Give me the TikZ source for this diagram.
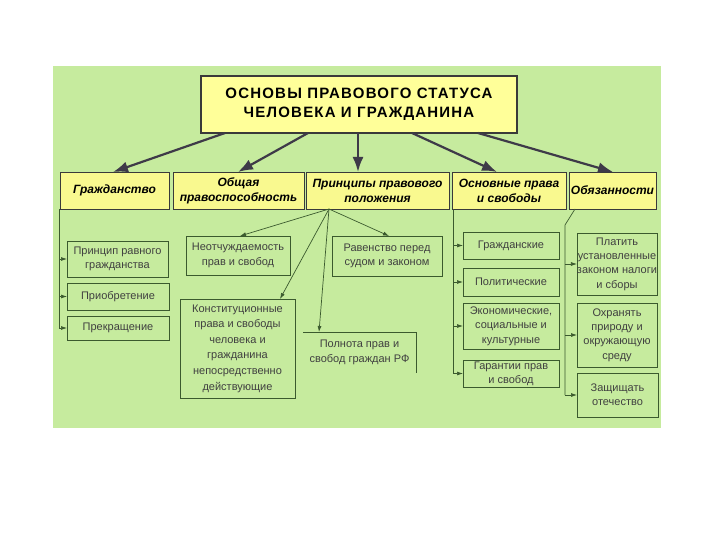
\documentclass[tikz,border=0pt]{standalone}
\usepackage{fontspec}
\setmainfont{Liberation Sans}
\usetikzlibrary{arrows.meta}
\definecolor{bggreen}{HTML}{C6EB9E}
\definecolor{boxyellow}{HTML}{FFFF99}
\definecolor{rowyellow}{HTML}{F9F98F}
\definecolor{darkline}{HTML}{3A3A3A}
\definecolor{arrowdark}{HTML}{3E3A48}
\definecolor{greenline}{HTML}{3B5A2E}
\definecolor{txtgray}{HTML}{404040}
\tikzset{
  titlebox/.style={draw=darkline, line width=2pt, fill=boxyellow, inner sep=0pt, outer sep=0pt, align=center,
    font=\fontsize{15}{19}\selectfont\bfseries\addfontfeature{LetterSpace=8}},
  rowbox/.style={draw=darkline, line width=0.8pt, fill=rowyellow, inner sep=0pt, outer sep=0pt, align=center,
    minimum height=37pt, font=\fontsize{12}{15}\selectfont\bfseries\itshape},
  lowbox/.style={draw=greenline, line width=0.8pt, inner sep=0pt, outer sep=0pt, align=center,
    text=txtgray, font=\fontsize{11}{14.3}\selectfont},
  tallbox/.style={lowbox, font=\fontsize{11}{15.6}\selectfont},
  bigarrow/.style={draw=arrowdark, line width=2.2pt, -{Latex[length=15pt,width=11pt]}},
  thinline/.style={draw=greenline, line width=0.7pt},
  smallarrow/.style={draw=greenline, line width=0.7pt, -{Latex[length=6pt,width=4pt]}}
}
\begin{document}
\begin{tikzpicture}[x=1pt,y=-1pt]
\useasboundingbox (0,0) rectangle (720,540);
\fill[bggreen] (53,66) rectangle (661,428);
% title
\node[titlebox, minimum width=316pt, minimum height=57pt] (t) at (359,104.5) {ОСНОВЫ ПРАВОВОГО СТАТУСА\\ЧЕЛОВЕКА И ГРАЖДАНИНА};
% row
\node[rowbox, minimum width=109pt] (g) at (114.5,190.5) {Гражданство};
\node[rowbox, minimum width=131pt] (o) at (238.5,190.5) {Общая\\правоспособность};
\node[rowbox, minimum width=143pt] (p) at (377.5,190.5) {Принципы правового\\положения};
\node[rowbox, minimum width=114pt] (s) at (509,190.5) {Основные права\\и свободы};
\node[rowbox, minimum width=87pt] (d) at (612.5,190.5) {Обязанности};
% top arrows
\draw[bigarrow] (225,133) -- (g.north -| 113,0);
\draw[bigarrow] (308,133) -- (o.north -| 238,0);
\draw[bigarrow] (t.south -| 358,0) -- (p.north -| 358,0);
\draw[bigarrow] (412,133) -- (s.north -| 497,0);
\draw[bigarrow] (478,133) -- (d.north -| 613,0);
% left column
\node[lowbox, minimum width=101pt, minimum height=36pt] (pr) at (117.5,259) {Принцип равного\\гражданства};
\node[lowbox, minimum width=102pt, minimum height=27pt] (pq) at (118,296.5) {Приобретение};
\node[lowbox, minimum width=102pt, minimum height=24pt] (pk) at (118,328) {Прекращение};
\coordinate (gv) at (59,209);
\draw[thinline] (gv) -- (gv |- pk.west);
\foreach \b in {pr,pq,pk} \draw[smallarrow] (gv |- \b.west) -- (\b.west);
% principles
\node[lowbox, minimum width=104pt, minimum height=39pt] (ne) at (238,255.5) {Неотчуждаемость\\прав и свобод};
\node[tallbox, minimum width=115pt, minimum height=99pt] (ko) at (237.5,348.5) {Конституционные\\права и свободы\\человека и\\гражданина\\непосредственно\\действующие};
\node[lowbox, minimum width=110pt, minimum height=40pt] (ra) at (387,256) {Равенство перед\\судом и законом};
\node[lowbox, draw=none, minimum width=113pt, minimum height=41pt] (pl) at (359.5,352.5) {Полнота прав и\\свобод граждан РФ};
\draw[thinline] (pl.north west) -- (pl.north east) -- (pl.north east |- 0,373);
\coordinate (pp) at (329,209);
\draw[smallarrow] (pp) -- (ne.north -| 240,0);
\draw[smallarrow] (pp) -- (ko.north -| 280,0);
\draw[smallarrow] (pp) -- (pl.north -| 319,0);
\draw[smallarrow] (pp) -- (ra.north -| 389,0);
% rights
\node[lowbox, minimum width=96pt, minimum height=27pt] (gr) at (511,245.5) {Гражданские};
\node[lowbox, minimum width=96pt, minimum height=28pt] (po) at (511,282) {Политические};
\node[lowbox, minimum width=96pt, minimum height=46pt] (ek) at (511,326) {Экономические,\\социальные и\\культурные};
\node[lowbox, minimum width=96pt, minimum height=27pt] (ga) at (511,373.5) {Гарантии прав\\и свобод};
\coordinate (sv) at (453,209);
\draw[thinline] (sv) -- (sv |- ga.west);
\foreach \b in {gr,po,ek,ga} \draw[smallarrow] (sv |- \b.west) -- (\b.west);
% duties
\node[lowbox, minimum width=80pt, minimum height=62pt] (pt) at (617,264) {Платить\\установленные\\законом налоги\\и сборы};
\node[lowbox, minimum width=80pt, minimum height=64pt] (oh) at (617,335) {Охранять\\природу и\\окружающую\\среду};
\node[lowbox, minimum width=81pt, minimum height=44pt] (za) at (617.5,395) {Защищать\\отечество};
\coordinate (dtop) at (575,209);
\coordinate (dv) at (565,225);
\draw[thinline] (dtop) -- (dv) -- (dv |- za.west);
\foreach \b in {pt,oh,za} \draw[smallarrow] (dv |- \b.west) -- (\b.west);
\end{tikzpicture}
\end{document}
